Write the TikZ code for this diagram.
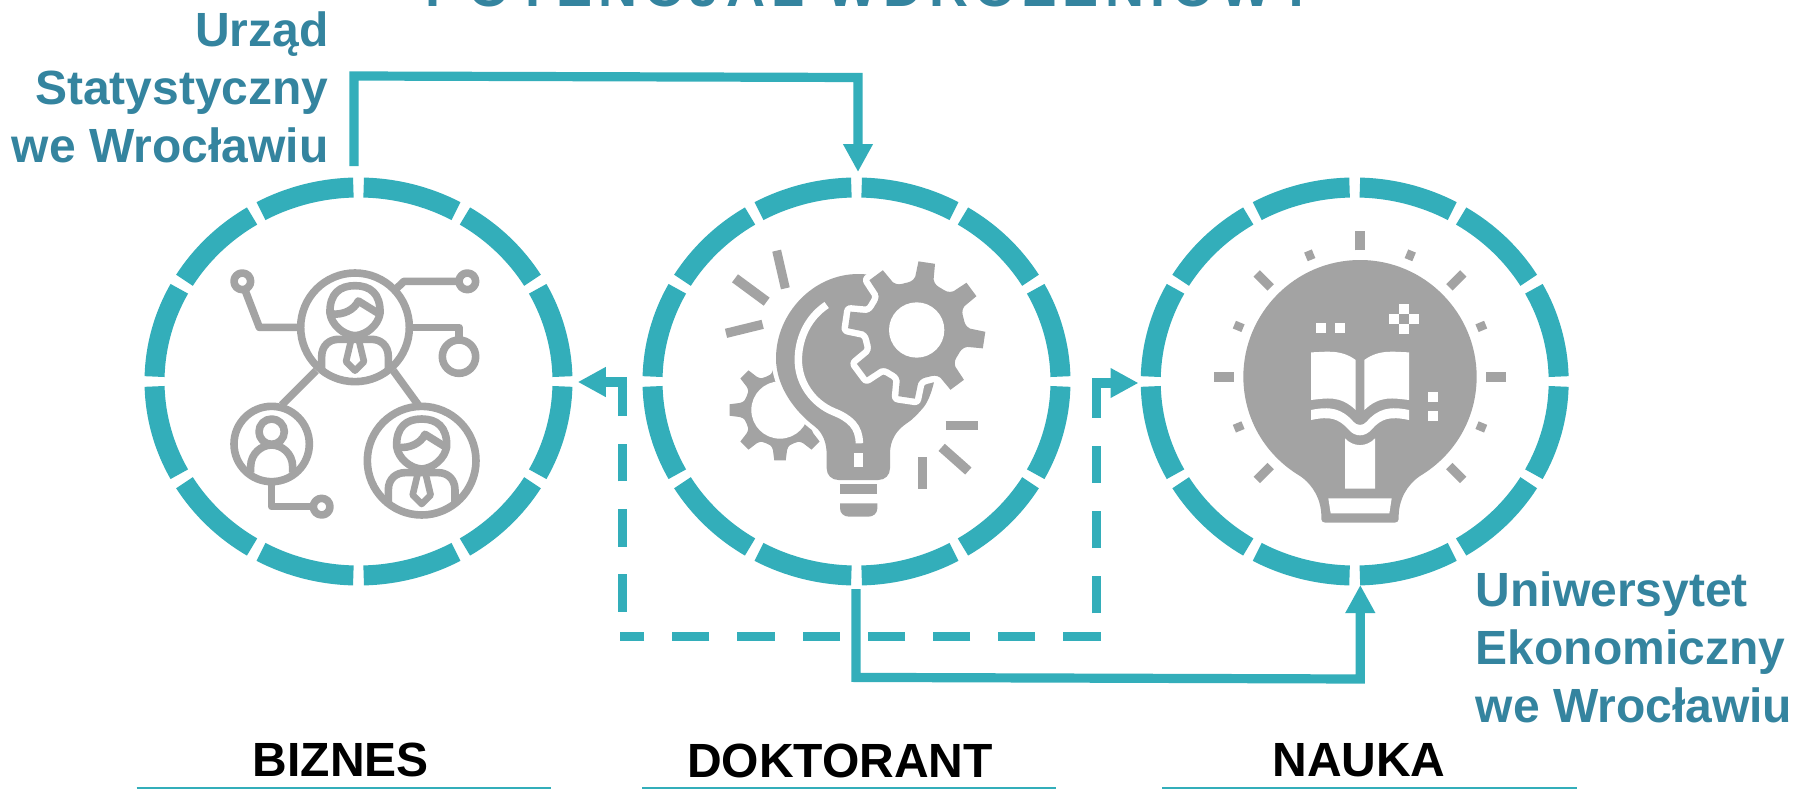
\documentclass[tikz,border=0pt]{standalone}
\usepackage{fontspec}
\setmainfont{Liberation Sans}
\usetikzlibrary{arrows.meta}
\definecolor{ringc}{HTML}{33AEBA}
\definecolor{textc}{HTML}{34849F}
\definecolor{iconc}{HTML}{A3A3A3}
\tikzset{
  ringseg/.style={draw=ringc,line width=20pt,line cap=butt},
  link/.style={draw=ringc,line width=9.2pt,line join=miter},
  dashlink/.style={draw=ringc,line width=9.4pt,dash pattern=on 37.3pt off 27.9pt},
  head/.style={-{Triangle[length=28pt,width=28pt]}},
  icon/.style={draw=iconc,line width=7.6pt,line join=round,line cap=butt},
  ray/.style={draw=iconc,line cap=butt},
  rule/.style={draw=ringc,line width=1.5pt},
  bluelabel/.style={text=textc,inner sep=0pt,outer sep=0pt,font=\bfseries\fontsize{48}{58}\selectfont},
  blacklabel/.style={text=black,inner sep=0pt,outer sep=0pt,anchor=base,font=\bfseries\fontsize{48}{58}\selectfont},
  izoom/.style={x=.33333pt,y=-.33333pt}
}
\newcommand{\ringat}[1]{%
  \foreach \k [evaluate=\k as \s using \k*30+1.45,evaluate=\k as \e using \k*30+28.55] in {0,...,11}{%
    \draw[ringseg] (#1) ++(\s:204 and 194) arc[start angle=\s,end angle=\e,x radius=204,y radius=194];
  }}
% gear outline: R, a0, tip half angle, base radius, base half angle, valley radius
\newcommand{\gearpath}[6]{%
  (#2+#3:#1) \foreach \a in {0,45,...,315}{
    -- (#2+\a+#5:#4)
    .. controls (#2+\a+#5+3:#6+1) and (#2+\a+22.5-5:#6) .. (#2+\a+22.5:#6)
    .. controls (#2+\a+22.5+5:#6) and (#2+\a+45-#5-3:#6+1) .. (#2+\a+45-#5:#4)
    -- (#2+\a+45-#3:#1) -- (#2+\a+45+#3:#1) } -- cycle}
\newcommand{\manicon}[2]{%
  \begin{scope}[shift={(#1,#2)}]
    \draw[icon] (0,0) circle[radius=163];
    \draw[icon] (-75,-42) .. controls (-77,-102) and (-45,-125) .. (0,-125)
       .. controls (45,-125) and (77,-102) .. (75,-42)
       .. controls (70,-7) and (35,23) .. (0,25)
       .. controls (-35,23) and (-70,-7) .. (-75,-42) -- cycle;
    \draw[icon] (-68,-40) .. controls (-35,-37) and (-3,-52) .. (10,-79) -- (70,-42);
    \draw[icon] (-100,125) -- (-100,88) .. controls (-100,53) and (-75,36) .. (-50,36)
       -- (50,36) .. controls (75,36) and (100,53) .. (100,88) -- (100,125);
    \draw[icon,line width=6.6pt] (-12,40) -- (-27,103) -- (0,130) -- (27,103) -- (12,40);
  \end{scope}}
\begin{document}
\begin{tikzpicture}[x=1pt,y=-1pt]
\useasboundingbox (0,0) rectangle (1803,789);
\fill[white] (0,0) rectangle (1803,789);

% title, cut by the top edge
\node[text=textc,inner sep=0pt,outer sep=0pt,anchor=base,font=\bfseries\fontsize{54}{60}\selectfont\addfontfeature{LetterSpace=12}]
  (title) at (870,7) {POTENCJAŁ WDROŻENIOWY};

% rings
\coordinate (biznes) at (358.5,381.5);
\coordinate (doktorant) at (856.5,381.5);
\coordinate (nauka) at (1354.7,381.5);
\ringat{biznes}
\ringat{doktorant}
\ringat{nauka}

% connector ends
\coordinate (topA) at (354,166);
\coordinate (topB) at (354,76);
\coordinate (topC) at (858,77.5);
\coordinate (topD) at (858,172);
\coordinate (botA) at (856,589);
\coordinate (botB) at (856,677.4);
\coordinate (botC) at (1360.3,679);
\coordinate (botD) at (1360.3,585);
\coordinate (dashR) at (1100.6,636.3);
\coordinate (dashL) at (620,636.3);
\coordinate (vlA) at (622.5,611.7);
\coordinate (vlB) at (622.5,378);
\coordinate (vrA) at (1096.6,613.3);
\coordinate (vrB) at (1096.6,380);
\coordinate (hlA) at (627.2,382);
\coordinate (hlB) at (577.8,382);
\coordinate (hrA) at (1092,383);
\coordinate (hrB) at (1138.5,383);

\draw[link,head] (topA) -- (topB) -- (topC) -- (topD);
\draw[link,head] (botA) -- (botB) -- (botC) -- (botD);
\draw[dashlink] (dashR) -- (dashL);
\draw[dashlink] (vlA) -- (vlB);
\draw[dashlink] (vrA) -- (vrB);
\draw[link,head] (hlA) -- (hlB);
\draw[link,head] (hrA) -- (hrB);

% icon: business network
\begin{scope}[shift={(130,240)},izoom]
  \manicon{675}{262}
  \manicon{875}{662}
  \draw[icon] (425,612) circle[radius=113];
  \draw[icon] (425,575) circle[radius=38];
  \draw[icon] (362,698) -- (362,680) .. controls (362,640) and (395,615) .. (425,615)
     .. controls (455,615) and (488,640) .. (488,680) -- (488,698);
  \draw[icon] (337,124) circle[radius=25];
  \draw[icon] (1012,124) circle[radius=25];
  \draw[icon] (575,800) circle[radius=25];
  \draw[icon] (987,350) circle[radius=50];
  \draw[icon] (345,150) -- (388,262) -- (512,262);
  \draw[icon] (985,124) -- (822,124) -- (800,145);
  \draw[icon] (838,262) -- (987,262) -- (987,300);
  \draw[icon] (558,392) -- (455,495);
  \draw[icon] (790,392) -- (865,495);
  \draw[icon] (425,725) -- (425,800) -- (550,800);
\end{scope}

% icon: bulb with gears
\begin{scope}[shift={(700,230)},izoom]
  \begin{scope}
    \clip (0,416) rectangle (400,720);
    \begin{scope}[shift={(240,540)}]
      \fill[iconc] \gearpath{152}{0}{6.5}{122}{10}{108};
      \fill[white] (0,0) circle[radius=86];
    \end{scope}
  \end{scope}
  \path[preaction={draw=white,line width=9pt},fill=iconc]
    (668,535) .. controls (695,505) and (712,430) .. (712,370)
    .. controls (712,240) and (605,132) .. (475,132)
    .. controls (340,132) and (228,250) .. (228,385)
    .. controls (228,470) and (285,545) .. (345,590)
    .. controls (370,610) and (380,640) .. (380,675) -- (380,715)
    .. controls (380,735) and (395,750) .. (415,750) -- (535,750)
    .. controls (555,750) and (570,735) .. (570,715) -- (570,670)
    .. controls (570,630) and (590,600) .. (620,580)
    .. controls (640,567) and (655,550) .. (668,535) -- cycle;
  \begin{scope}[shift={(650,300)}]
    \path[preaction={draw=white,line width=13pt,line join=round},fill=iconc] \gearpath{206}{-81.5}{7}{160}{10}{145};
    \fill[white] (0,0) circle[radius=83];
  \end{scope}
  \draw[white,line width=7.5pt] (380,225) .. controls (320,265) and (295,330) .. (295,390)
     .. controls (295,460) and (340,520) .. (400,545) .. controls (450,565) and (478,590) .. (478,640);
  \fill[white] (463,668) rectangle (490,710);
  \fill[iconc] (420,763) rectangle (532,792);
  \fill[iconc] (420,820) -- (532,820) -- (532,835) .. controls (532,850) and (520,860) .. (505,860)
     -- (447,860) .. controls (432,860) and (420,850) .. (420,835) -- cycle;
  \draw[ray,line width=9pt] (230,62) -- (256,175);
  \draw[ray,line width=10pt] (105,145) -- (200,215);
  \draw[ray,line width=9.3pt] (78,310) -- (188,283);
  \draw[ray,line width=9.3pt] (737,586) -- (833,586);
  \draw[ray,line width=9.5pt] (725,652) -- (805,723);
  \draw[ray,line width=9.3pt] (668,682) -- (668,778);
\end{scope}

% icon: bulb with book
\begin{scope}[shift={(1190,220)},izoom]
  \fill[iconc] (330,768) .. controls (225,705) and (160,595) .. (160,470)
     .. controls (160,280) and (315,120) .. (510,120)
     .. controls (705,120) and (860,280) .. (860,470)
     .. controls (860,595) and (795,705) .. (690,768)
     .. controls (650,795) and (626,840) .. (626,890) -- (626,898)
     .. controls (626,904) and (620,908) .. (614,908) -- (406,908)
     .. controls (400,908) and (394,904) .. (394,898) -- (394,890)
     .. controls (394,840) and (370,795) .. (330,768) -- cycle;
  \fill[white] (363,397) .. controls (400,397) and (450,385) .. (497,420) -- (497,570)
     .. controls (450,525) and (410,535) .. (363,540) -- cycle;
  \fill[white] (657,397) .. controls (620,397) and (570,385) .. (523,420) -- (523,570)
     .. controls (570,525) and (610,535) .. (657,540) -- cycle;
  \fill[white] (363,570) .. controls (420,558) and (455,565) .. (490,605)
     .. controls (500,618) and (520,618) .. (530,605)
     .. controls (565,565) and (600,558) .. (657,570) -- (657,600)
     .. controls (600,588) and (575,595) .. (545,628)
     .. controls (525,652) and (495,652) .. (475,628)
     .. controls (445,595) and (420,588) .. (363,600) -- cycle;
  \fill[white] (465,655) .. controls (490,682) and (530,682) .. (555,655) -- (555,806) -- (465,806) -- cycle;
  \fill[white] (415,835) -- (605,835) -- (598,880) -- (422,880) -- cycle;
  \fill[white] (378,310) rectangle (408,340);
  \fill[white] (436,310) rectangle (466,340);
  \fill[white] (715,515) rectangle (745,545);
  \fill[white] (715,573) rectangle (745,603);
  \fill[white] (627,251) rectangle (657,281);
  \fill[white] (598,281) rectangle (627,311);
  \fill[white] (657,281) rectangle (686,311);
  \fill[white] (627,311) rectangle (657,341);
  \begin{scope}[shift={(510,470)}]
    \foreach \a in {-90,0,180} \draw[ray,line width=9.7pt] (\a:379) -- (\a:438);
    \foreach \a in {-135,-45,45,135} \draw[ray,line width=9pt] (\a:379) -- (\a:438);
    \foreach \a in {-112.5,-67.5,-157.5,-22.5,157.5,22.5} \draw[ray,line width=8.3pt] (\a:380) -- (\a:408);
  \end{scope}
\end{scope}

% labels
\node[bluelabel,align=right,anchor=north east] (urzad) at (328.5,11.3) {Urząd\\Statystyczny\\we Wrocławiu};
\node[bluelabel,align=left,anchor=north west] (ue) at (1475.7,571.7) {Uniwersytet\\Ekonomiczny\\we Wrocławiu};
\node[blacklabel] (lab1) at (340.8,776) {BIZNES};
\node[blacklabel] (lab2) at (840,777.7) {DOKTORANT};
\node[blacklabel] (lab3) at (1359,776) {NAUKA};
\coordinate (r1a) at (136.7,788); \coordinate (r1b) at (551,788);
\coordinate (r2a) at (642,788); \coordinate (r2b) at (1056,788);
\coordinate (r3a) at (1162,788); \coordinate (r3b) at (1577,788);
\draw[rule] (r1a) -- (r1b);
\draw[rule] (r2a) -- (r2b);
\draw[rule] (r3a) -- (r3b);
\end{tikzpicture}
\end{document}
